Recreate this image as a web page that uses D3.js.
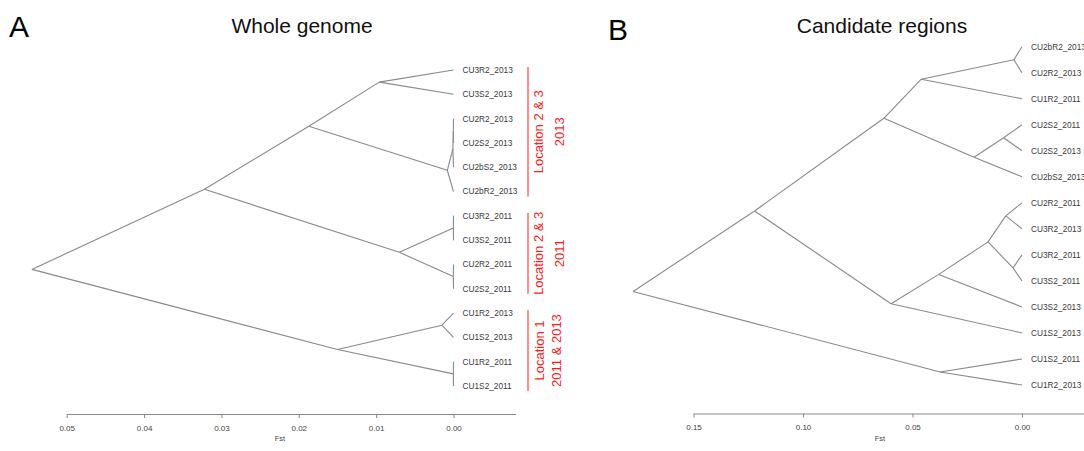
<!DOCTYPE html>
<html>
<head>
<meta charset="utf-8">
<script src="https://cdn.jsdelivr.net/npm/d3@7"></script>
<style>
  body { margin: 0; background: #fff; }
  svg { display: block; font-family: "Liberation Sans", Arial, Helvetica, sans-serif; }
</style>
</head>
<body>
<svg id="chart" width="1084" height="451"></svg>
<script>
// ---- panel A: whole genome ----
var leavesA = ["CU3R2_2013", "CU3S2_2013", "CU2R2_2013", "CU2S2_2013", "CU2bS2_2013", "CU2bR2_2013",
  "CU3R2_2011", "CU3S2_2011", "CU2R2_2011", "CU2S2_2011",
  "CU1R2_2013", "CU1S2_2013", "CU1R2_2011", "CU1S2_2011"];
// hclust style merges: negative = leaf (1-based), positive = earlier merge row (1-based)
var mergeA = [[-3, -4], [1, -5], [2, -6], [-1, -2], [4, 3], [-7, -8], [-9, -10], [6, 7], [5, 8],
  [-11, -12], [-13, -14], [10, 11], [9, 12]];
var heightA = [0.00002, 0.00008, 0.0008, 0.0096, 0.0187, 0.00002, 0.00002, 0.0070, 0.0322,
  0.0015, 0.00002, 0.0150, 0.0545];
var ticksA = [0.05, 0.04, 0.03, 0.02, 0.01, 0.00];

// ---- panel B: candidate regions ----
var leavesB = ["CU2bR2_2013", "CU2R2_2013", "CU1R2_2011", "CU2S2_2011", "CU2S2_2013", "CU2bS2_2013",
  "CU2R2_2011", "CU3R2_2013", "CU3R2_2011", "CU3S2_2011", "CU3S2_2013", "CU1S2_2013",
  "CU1S2_2011", "CU1R2_2013"];
var mergeB = [[-1, -2], [1, -3], [-4, -5], [3, -6], [2, 4], [-7, -8], [-9, -10], [6, 7], [8, -11],
  [9, -12], [5, 10], [-13, -14], [11, 12]];
var heightB = [0.0037, 0.046, 0.0084, 0.0219, 0.0631, 0.0074, 0.0041, 0.0155, 0.038, 0.0598,
  0.1221, 0.0374, 0.1776];
var ticksB = [0.15, 0.10, 0.05, 0.00];

// red group brackets on panel A (leaf index ranges)
var groupStart = [0, 6, 10];
var groupEnd = [5, 9, 13];
var groupLine1 = ["Location 2 & 3", "Location 2 & 3", "Location 1"];
var groupLine2 = ["2013", "2011", "2011 & 2013"];

var svg = d3.select("#chart");

function drawTree(opt) {
  var g = svg.append("g");
  var x = d3.scaleLinear().domain(opt.xDomain).range(opt.xRange);
  var y = d3.scaleLinear().domain([0, opt.leaves.length - 1]).range(opt.yRange);

  // positions of leaves and merge nodes
  var leafPos = opt.leaves.map(function(d, i) { return [x(0), y(i)]; });
  var nodePos = [];
  function pos(k) { return k < 0 ? leafPos[-k - 1] : nodePos[k - 1]; }
  var segs = [];
  opt.merge.forEach(function(m, i) {
    var a = pos(m[0]), b = pos(m[1]);
    var p = [x(opt.height[i]), (a[1] + b[1]) / 2];
    nodePos.push(p);
    segs.push([p, a], [p, b]);
  });

  g.selectAll("line.branch").data(segs).join("line")
    .attr("class", "branch")
    .attr("x1", function(d) { return d[0][0]; })
    .attr("y1", function(d) { return d[0][1]; })
    .attr("x2", function(d) { return d[1][0]; })
    .attr("y2", function(d) { return d[1][1]; })
    .attr("stroke", "#8a8a8a").attr("stroke-width", 1.1);

  g.selectAll("text.leaf").data(opt.leaves).join("text")
    .attr("class", "leaf")
    .attr("x", x(0) + opt.labelGap)
    .attr("y", function(d, i) { return y(i); })
    .attr("dy", "0.35em")
    .attr("font-size", "8.3px").attr("fill", "#3a3a3a")
    .text(function(d) { return d; });

  // axis
  var axisScale = x.copy().domain([opt.ticks[0], opt.axisEnd])
    .range([x(opt.ticks[0]), x(opt.axisEnd)]);
  var ax = g.append("g").attr("transform", "translate(0," + opt.axisY + ")")
    .call(d3.axisBottom(axisScale).tickValues(opt.ticks).tickFormat(d3.format(".2f"))
      .tickSize(4).tickSizeOuter(0).tickPadding(7));
  ax.select(".domain").attr("stroke", "#8a8a8a");
  ax.selectAll(".tick line").attr("stroke", "#8a8a8a");
  ax.selectAll(".tick text").attr("font-size", "8px").attr("fill", "#444")
    .attr("font-family", "Liberation Sans, Arial, sans-serif");

  g.append("text")
    .attr("x", opt.fstX).attr("y", opt.axisY + 27)
    .attr("text-anchor", "middle").attr("font-size", "7.5px").attr("fill", "#444")
    .text("Fst");

  g.append("text").attr("x", opt.letterX).attr("y", opt.letterY)
    .attr("font-size", "30px").attr("fill", "#000").text(opt.letter);
  g.append("text").attr("x", opt.titleX).attr("y", opt.titleY)
    .attr("text-anchor", "middle").attr("font-size", "21px").attr("fill", "#111")
    .text(opt.title);

  return y;
}

var yA = drawTree({
  leaves: leavesA, merge: mergeA, height: heightA, ticks: ticksA,
  xDomain: [0.05, 0], xRange: [66.7, 453.5], yRange: [70, 386],
  axisEnd: -0.008, axisY: 414, labelGap: 9, fstX: 280,
  letter: "A", letterX: 9, letterY: 37, title: "Whole genome", titleX: 302, titleY: 33
});

drawTree({
  leaves: leavesB, merge: mergeB, height: heightB, ticks: ticksB,
  xDomain: [0.15, 0], xRange: [693.5, 1022], yRange: [46.7, 385],
  axisEnd: -0.04, axisY: 413.5, labelGap: 9, fstX: 880,
  letter: "B", letterX: 608, letterY: 40, title: "Candidate regions", titleX: 882, titleY: 33
});

// red brackets + rotated group labels
var grp = svg.append("g").selectAll("g").data(groupStart).join("g");
grp.append("line")
  .attr("x1", 528).attr("x2", 528)
  .attr("y1", function(d) { return yA(d) - 3; })
  .attr("y2", function(d, i) { return yA(groupEnd[i]) + 5; })
  .attr("stroke", "#ff2020").attr("stroke-width", 1);
grp.each(function(d, i) {
  var cy = (yA(d) - 3 + yA(groupEnd[i]) + 5) / 2;
  var t = d3.select(this);
  [groupLine1[i], groupLine2[i]].forEach(function(s, j) {
    var cx = (i === 2 ? 539 : 538) + j * (i === 2 ? 17 : 21);
    t.append("text")
      .attr("transform", "translate(" + cx + "," + cy + ") rotate(-90)")
      .attr("text-anchor", "middle").attr("dy", "0.35em")
      .attr("font-size", "13px").attr("fill", "#ff1a1a")
      .text(s);
  });
});
</script>
</body>
</html>
